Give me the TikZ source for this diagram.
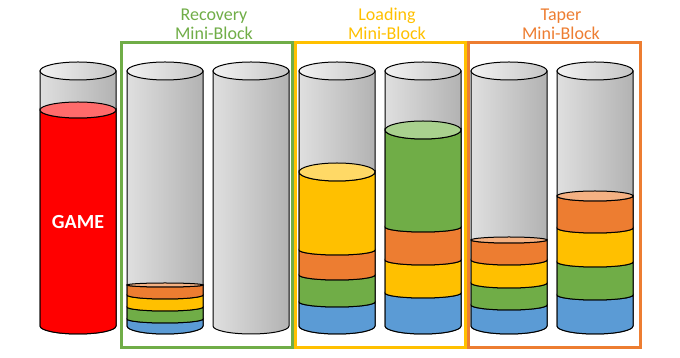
\documentclass[tikz,border=0pt]{standalone}
\usepackage{fontspec}
\setmainfont{Carlito}
\definecolor{gamered}{HTML}{FF0000}
\definecolor{redtop}{HTML}{FF6B6B}
\definecolor{mbgreen}{HTML}{70AD47}
\definecolor{greentop}{HTML}{A9D18E}
\definecolor{mbyellow}{HTML}{FFC000}
\definecolor{yellowtop}{HTML}{FFD966}
\definecolor{mborange}{HTML}{ED7D31}
\definecolor{orangetop}{HTML}{F4B183}
\definecolor{mbblue}{HTML}{5B9BD5}

\begin{document}
\begin{tikzpicture}[x=1pt, y=1pt, line width=1pt]
    \tikzstyle{tube}=[draw=black,left color=gray!25,middle color=gray!5,right color=gray!60]
    \tikzstyle{lid}=[draw=black,left color=gray!10,right color=gray!45]
    \tikzstyle{layer}=[draw=black]
    \tikzstyle{frame}=[line width=3pt]
    \tikzstyle{title}=[font=\fontsize{18}{19}\selectfont, align=center]
    \useasboundingbox (0,0) rectangle (680,358);

    % empty cylinders
    \foreach \cx in {78,165,251,337,423,509,595} {
      \draw[tube] (\cx-38,287) -- (\cx-38,32) arc[start angle=180, end angle=360, x radius=38, y radius=8] -- (\cx+38,287) -- cycle;
      \draw[lid] (\cx,287) ellipse [x radius=38, y radius=9];
    }

    % layers: centre / top / top radius / bottom / bottom radius / colour
    \foreach \cx/\yt/\rt/\yb/\rb/\col in {
      78/248/8/32/8/gamered,
      165/39/4/32/8/mbblue, 165/51/4/39/4/mbgreen, 165/63/4/51/4/mbyellow, 165/73/2/63/4/mborange,
      337/56/5/32/8/mbblue, 337/83/5/56/5/mbgreen, 337/108/5/83/5/mborange, 337/186/9/108/5/mbyellow,
      423/65/5/32/8/mbblue, 423/98/5/65/5/mbyellow, 423/131/5/98/5/mborange, 423/228/9/131/5/mbgreen,
      509/53/5/32/8/mbblue, 509/75/5/53/5/mbgreen, 509/98/5/75/5/mbyellow, 509/118/3/98/5/mborange,
      595/63/5/32/8/mbblue, 595/96/5/63/5/mbgreen, 595/130/5/96/5/mbyellow, 595/162/5/130/5/mborange} {
      \draw[layer, fill=\col] (\cx-38,\yt) -- (\cx-38,\yb) arc[start angle=180, end angle=360, x radius=38, y radius=\rb] -- (\cx+38,\yt) arc[start angle=0, end angle=-180, x radius=38, y radius=\rt] -- cycle;
    }

    % tops of the fillings
    \foreach \cx/\y/\r/\col in {78/248/8/redtop, 165/73/2/orangetop, 337/186/9/yellowtop,
      423/228/9/greentop, 509/118/3/orangetop, 595/162/5/orangetop} {
      \draw[layer, fill=\col] (\cx,\y) ellipse [x radius=38, y radius=\r];
    }

    % mini-block frames
    \draw[frame, mbgreen] (121,315) rectangle (292,10);
    \draw[frame, mbyellow] (295,315) rectangle (465,10);
    \draw[frame, mborange] (468,315) rectangle (640,10);

    \node[title, text=mbgreen] (recovery) at (214,334) {Recovery\\Mini-Block};
    \node[title, text=mbyellow] (loading) at (387,334) {Loading\\Mini-Block};
    \node[title, text=mborange] (taper) at (561,334) {Taper\\Mini-Block};
    \node[text=white, font=\bfseries\fontsize{20}{24}\selectfont] (game) at (78,136) {GAME};
  \end{tikzpicture}
\end{document}
